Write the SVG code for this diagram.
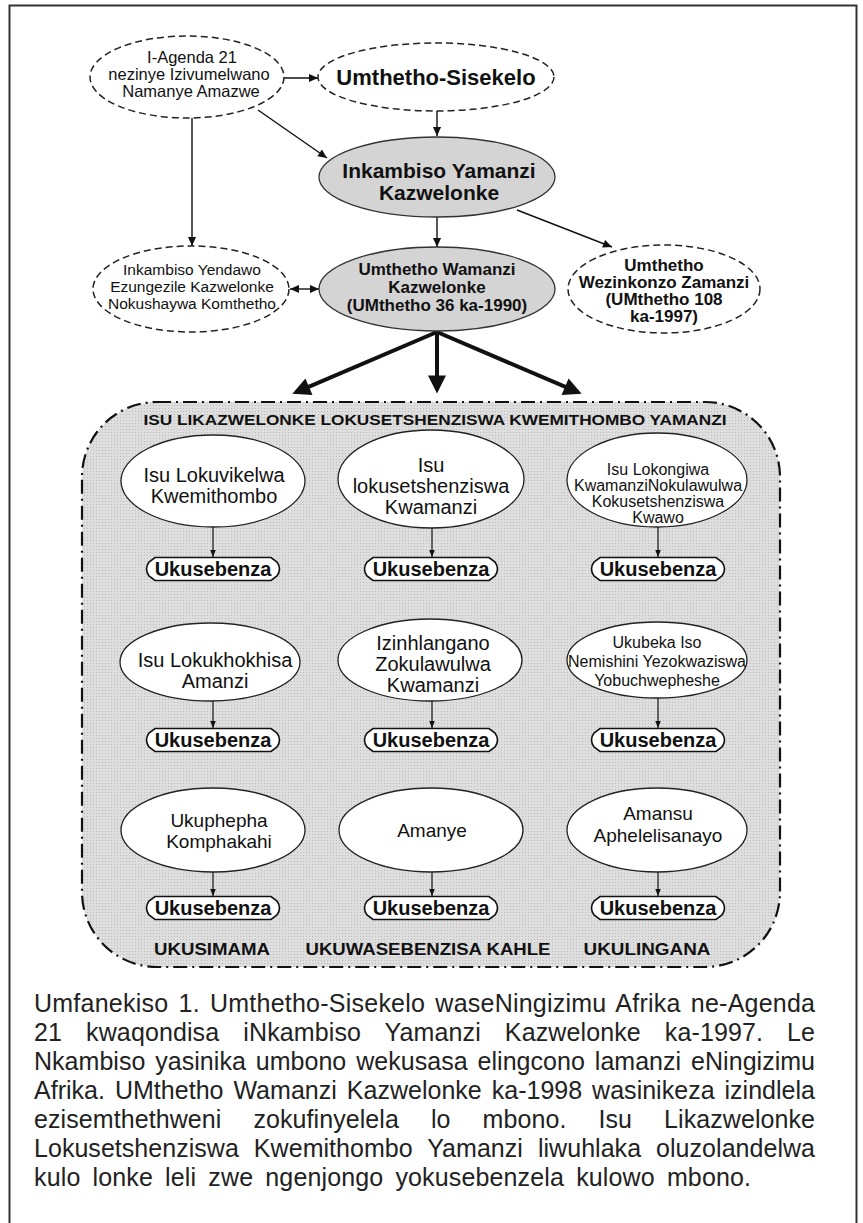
<svg xmlns="http://www.w3.org/2000/svg" width="863" height="1223" viewBox="0 0 863 1223">
<style>
.t{font-family:"Liberation Sans",Arial,sans-serif;fill:#111}
.b{font-weight:bold}
.dash{fill:#fff;stroke:#222;stroke-width:1.5;stroke-dasharray:7 4}
.gray{fill:#d4d4d4;stroke:#333;stroke-width:1.3}
.wh{fill:#fff;stroke:#222;stroke-width:1.3}
.ln{stroke:#111;stroke-width:1.4;fill:none}
.lns{stroke:#111;stroke-width:1.2;fill:none}
.thick{stroke:#111;stroke-width:4;fill:none}
.box{fill:#fff;stroke:#111;stroke-width:1.6}
.cap{font-family:"Liberation Sans",Arial,sans-serif;font-size:25px;fill:#222}
</style>
<defs>
<pattern id="dots" width="3" height="3" patternUnits="userSpaceOnUse">
<rect width="3" height="3" fill="#dedede"/>
<rect width="1" height="1" fill="#bcbcbc"/>
</pattern>
<marker id="ah" viewBox="0 0 10 10" refX="10" refY="5" markerWidth="10" markerHeight="9" markerUnits="userSpaceOnUse" orient="auto-start-reverse">
<path d="M0,0.5 L10,5 L0,9.5 z" fill="#111"/>
</marker>
<marker id="ahs" viewBox="0 0 10 10" refX="10" refY="5" markerWidth="7" markerHeight="7" markerUnits="userSpaceOnUse" orient="auto">
<path d="M0,1 L10,5 L0,9 z" fill="#111"/>
</marker>
<marker id="ahb" viewBox="0 0 10 10" refX="8" refY="5" markerWidth="20" markerHeight="18" markerUnits="userSpaceOnUse" orient="auto">
<path d="M0,0 L10,5 L0,10 z" fill="#111"/>
</marker>
<path id="ubox" d="M-58,-11.5 L58,-11.5 L64,-7 Q69,0 64,7 L58,11.5 L-58,11.5 L-64,7 Q-69,0 -64,-7 Z"/>
</defs>

<rect x="9.5" y="5.5" width="847" height="1230" fill="#fff" stroke="#333" stroke-width="2"/>

<!-- big dash-dot container -->
<g id="container">
<rect x="82" y="402" width="698" height="565" rx="75" ry="75" fill="url(#dots)" stroke="#111" stroke-width="2.2" stroke-dasharray="14 5 2 5"/>
<text class="t b" x="435" y="425" font-size="15" text-anchor="middle" textLength="583" lengthAdjust="spacingAndGlyphs">ISU LIKAZWELONKE LOKUSETSHENZISWA KWEMITHOMBO YAMANZI</text>
<text class="t b" x="212" y="955" font-size="17" text-anchor="middle" textLength="116" lengthAdjust="spacingAndGlyphs">UKUSIMAMA</text>
<text class="t b" x="428" y="955" font-size="17" text-anchor="middle" textLength="245" lengthAdjust="spacingAndGlyphs">UKUWASEBENZISA KAHLE</text>
<text class="t b" x="647" y="955" font-size="17" text-anchor="middle" textLength="127" lengthAdjust="spacingAndGlyphs">UKULINGANA</text>
</g>

<!-- connectors -->
<g id="connectors">
<line class="ln" x1="284" y1="78" x2="318" y2="78" marker-end="url(#ah)"/>
<line class="ln" x1="437" y1="111" x2="437" y2="136" marker-end="url(#ah)"/>
<line class="ln" x1="258" y1="110" x2="327" y2="158" marker-end="url(#ah)"/>
<line class="ln" x1="192" y1="118" x2="192" y2="246" marker-end="url(#ah)"/>
<line class="ln" x1="437" y1="217" x2="437" y2="247" marker-end="url(#ah)"/>
<line class="ln" x1="517" y1="210" x2="612" y2="247" marker-end="url(#ah)"/>
<line class="ln" x1="290" y1="289" x2="319" y2="289" marker-start="url(#ah)" marker-end="url(#ah)"/>
<line class="thick" x1="437" y1="332" x2="295.7" y2="392.4" marker-end="url(#ahb)"/>
<line class="thick" x1="437" y1="332" x2="437" y2="390" marker-end="url(#ahb)"/>
<line class="thick" x1="437" y1="332" x2="578.3" y2="392.4" marker-end="url(#ahb)"/>
<line class="lns" x1="213" y1="527" x2="213" y2="557" marker-end="url(#ahs)"/>
<line class="lns" x1="432" y1="528" x2="432" y2="557" marker-end="url(#ahs)"/>
<line class="lns" x1="658" y1="527" x2="658" y2="557" marker-end="url(#ahs)"/>
<line class="lns" x1="213" y1="701" x2="213" y2="728" marker-end="url(#ahs)"/>
<line class="lns" x1="432" y1="701" x2="432" y2="728" marker-end="url(#ahs)"/>
<line class="lns" x1="658" y1="698" x2="658" y2="728" marker-end="url(#ahs)"/>
<line class="lns" x1="213" y1="872" x2="213" y2="896" marker-end="url(#ahs)"/>
<line class="lns" x1="432" y1="872" x2="432" y2="896" marker-end="url(#ahs)"/>
<line class="lns" x1="658" y1="872" x2="658" y2="896" marker-end="url(#ahs)"/>
</g>

<!-- top nodes -->
<g id="n-agenda">
<ellipse class="dash" cx="187" cy="77" rx="97" ry="41"/>
<text class="t" font-size="16.5" text-anchor="middle"><tspan x="192" y="63">I-Agenda 21</tspan><tspan x="189" y="80">nezinye Izivumelwano</tspan><tspan x="191" y="97">Namanye Amazwe</tspan></text>
</g>
<g id="n-sisekelo">
<ellipse class="dash" cx="436" cy="77" rx="118" ry="34"/>
<text class="t b" x="436" y="85" font-size="22" text-anchor="middle">Umthetho-Sisekelo</text>
</g>
<g id="n-inkambiso">
<ellipse class="gray" cx="437" cy="177" rx="118" ry="40"/>
<text class="t b" font-size="21" text-anchor="middle"><tspan x="439" y="178">Inkambiso Yamanzi</tspan><tspan x="439" y="200">Kazwelonke</tspan></text>
</g>
<g id="n-yendawo">
<ellipse class="dash" cx="191" cy="289" rx="98" ry="43"/>
<text class="t" font-size="15.5" text-anchor="middle"><tspan x="192" y="275">Inkambiso Yendawo</tspan><tspan x="192" y="292">Ezungezile Kazwelonke</tspan><tspan x="192" y="309">Nokushaywa Komthetho</tspan></text>
</g>
<g id="n-wamanzi">
<ellipse class="gray" cx="437" cy="289" rx="118" ry="42"/>
<text class="t b" font-size="17" text-anchor="middle"><tspan x="437" y="275">Umthetho Wamanzi</tspan><tspan x="437" y="293">Kazwelonke</tspan><tspan x="437" y="311">(UMthetho 36 ka-1990)</tspan></text>
</g>
<g id="n-wezinkonzo">
<ellipse class="dash" cx="664" cy="289" rx="96" ry="44"/>
<text class="t b" font-size="17" text-anchor="middle"><tspan x="664" y="271">Umthetho</tspan><tspan x="664" y="288">Wezinkonzo Zamanzi</tspan><tspan x="664" y="305">(UMthetho 108</tspan><tspan x="664" y="322">ka-1997)</tspan></text>
</g>

<!-- row 1 -->
<g id="e1">
<ellipse class="wh" cx="213" cy="481" rx="92" ry="46"/>
<text class="t" font-size="20" text-anchor="middle"><tspan x="214" y="482">Isu Lokuvikelwa</tspan><tspan x="214" y="503">Kwemithombo</tspan></text>
</g>
<g id="e2">
<ellipse class="wh" cx="431" cy="479" rx="93" ry="49"/>
<text class="t" font-size="20" text-anchor="middle"><tspan x="431" y="472">Isu</tspan><tspan x="431" y="493">lokusetshenziswa</tspan><tspan x="431" y="514">Kwamanzi</tspan></text>
</g>
<g id="e3">
<ellipse class="wh" cx="657" cy="480" rx="90" ry="47"/>
<text class="t" font-size="16" text-anchor="middle"><tspan x="658" y="475">Isu Lokongiwa</tspan><tspan x="658" y="491">KwamanziNokulawulwa</tspan><tspan x="658" y="507">Kokusetshenziswa</tspan><tspan x="658" y="523">Kwawo</tspan></text>
</g>
<g id="u1"><use href="#ubox" x="213" y="569" class="box"/><text class="t b" x="213" y="576" font-size="20" text-anchor="middle">Ukusebenza</text></g>
<g id="u2"><use href="#ubox" x="431" y="569" class="box"/><text class="t b" x="431" y="576" font-size="20" text-anchor="middle">Ukusebenza</text></g>
<g id="u3"><use href="#ubox" x="658" y="569" class="box"/><text class="t b" x="658" y="576" font-size="20" text-anchor="middle">Ukusebenza</text></g>

<!-- row 2 -->
<g id="e4">
<ellipse class="wh" cx="210" cy="662" rx="90" ry="39"/>
<text class="t" font-size="20" text-anchor="middle"><tspan x="215" y="667">Isu Lokukhokhisa</tspan><tspan x="215" y="688">Amanzi</tspan></text>
</g>
<g id="e5">
<ellipse class="wh" cx="430" cy="660" rx="92" ry="41"/>
<text class="t" font-size="20" text-anchor="middle"><tspan x="433" y="650">Izinhlangano</tspan><tspan x="433" y="671">Zokulawulwa</tspan><tspan x="433" y="692">Kwamanzi</tspan></text>
</g>
<g id="e6">
<ellipse class="wh" cx="657" cy="660" rx="90" ry="38"/>
<text class="t" font-size="16" text-anchor="middle"><tspan x="657" y="648">Ukubeka Iso</tspan><tspan x="657" y="667">Nemishini Yezokwaziswa</tspan><tspan x="657" y="686">Yobuchwepheshe</tspan></text>
</g>
<g id="u4"><use href="#ubox" x="213" y="740" class="box"/><text class="t b" x="213" y="747" font-size="20" text-anchor="middle">Ukusebenza</text></g>
<g id="u5"><use href="#ubox" x="431" y="740" class="box"/><text class="t b" x="431" y="747" font-size="20" text-anchor="middle">Ukusebenza</text></g>
<g id="u6"><use href="#ubox" x="658" y="740" class="box"/><text class="t b" x="658" y="747" font-size="20" text-anchor="middle">Ukusebenza</text></g>

<!-- row 3 -->
<g id="e7">
<ellipse class="wh" cx="213" cy="830" rx="92" ry="42"/>
<text class="t" font-size="19" text-anchor="middle"><tspan x="219" y="827">Ukuphepha</tspan><tspan x="219" y="848">Komphakahi</tspan></text>
</g>
<g id="e8">
<ellipse class="wh" cx="431" cy="830" rx="92" ry="42"/>
<text class="t" font-size="19" text-anchor="middle" x="432" y="837">Amanye</text>
</g>
<g id="e9">
<ellipse class="wh" cx="657" cy="830" rx="90" ry="42"/>
<text class="t" font-size="19" text-anchor="middle"><tspan x="658" y="820">Amansu</tspan><tspan x="658" y="842">Aphelelisanayo</tspan></text>
</g>
<g id="u7"><use href="#ubox" x="213" y="908" class="box"/><text class="t b" x="213" y="915" font-size="20" text-anchor="middle">Ukusebenza</text></g>
<g id="u8"><use href="#ubox" x="431" y="908" class="box"/><text class="t b" x="431" y="915" font-size="20" text-anchor="middle">Ukusebenza</text></g>
<g id="u9"><use href="#ubox" x="658" y="908" class="box"/><text class="t b" x="658" y="915" font-size="20" text-anchor="middle">Ukusebenza</text></g>

<!-- caption -->
<g id="caption">
<text class="cap" x="34" y="1012" word-spacing="3" textLength="781" lengthAdjust="spacing">Umfanekiso 1. Umthetho-Sisekelo waseNingizimu Afrika ne-Agenda</text>
<text class="cap" x="34" y="1041" word-spacing="17" textLength="781" lengthAdjust="spacing">21 kwaqondisa iNkambiso Yamanzi Kazwelonke ka-1997. Le</text>
<text class="cap" x="34" y="1070" word-spacing="3" textLength="781" lengthAdjust="spacing">Nkambiso yasinika umbono wekusasa elingcono lamanzi eNingizimu</text>
<text class="cap" x="34" y="1099" word-spacing="3" textLength="781" lengthAdjust="spacing">Afrika. UMthetho Wamanzi Kazwelonke ka-1998 wasinikeza izindlela</text>
<text class="cap" x="34" y="1128" word-spacing="25" textLength="781" lengthAdjust="spacing">ezisemthethweni zokufinyelela lo mbono. Isu Likazwelonke</text>
<text class="cap" x="34" y="1157" word-spacing="8" textLength="781" lengthAdjust="spacing">Lokusetshenziswa Kwemithombo Yamanzi liwuhlaka oluzolandelwa</text>
<text class="cap" x="34" y="1186" word-spacing="5" textLength="717" lengthAdjust="spacing">kulo lonke leli zwe ngenjongo yokusebenzela kulowo mbono.</text>
</g>
</svg>
